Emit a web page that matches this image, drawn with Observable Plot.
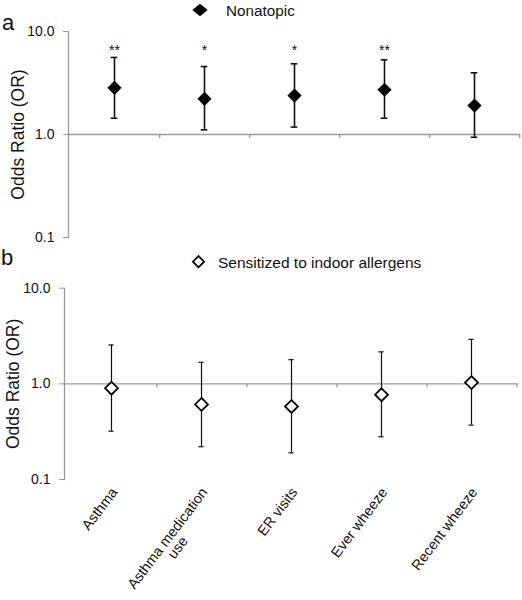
<!DOCTYPE html>
<html>
<head>
<meta charset="utf-8">
<script src="https://cdn.jsdelivr.net/npm/d3@7"></script>
<script src="https://cdn.jsdelivr.net/npm/@observablehq/plot@0.6"></script>
<style>
  html, body { margin: 0; padding: 0; background: #fff; }
  #wrap { position: relative; width: 522px; height: 600px; overflow: hidden; font-family: "Liberation Sans", Arial, sans-serif; }
  #wrap svg { display: block; }
  #overlay { position: absolute; left: 0; top: 0; pointer-events: none; }
</style>
</head>
<body>
<div id="wrap"></div>
<script>
const categories = ["Asthma", "Asthma medication use", "ER visits", "Ever wheeze", "Recent wheeze"];
const labelLine1 = ["Asthma", "Asthma medication", "ER visits", "Ever wheeze", "Recent wheeze"];
const labelLine2 = ["", "use", "", "", ""];

const nonatopicOR = [2.84, 2.22, 2.39, 2.72, 1.91];
const nonatopicLo = [1.44, 1.11, 1.18, 1.44, 0.94];
const nonatopicHi = [5.60, 4.57, 4.86, 5.31, 3.97];
const nonatopicSig = ["**", "*", "*", "**", ""];

const sensitizedOR = [0.90, 0.61, 0.58, 0.77, 1.03];
const sensitizedLo = [0.32, 0.22, 0.19, 0.28, 0.37];
const sensitizedHi = [2.55, 1.68, 1.79, 2.16, 2.92];

const yTicks = [0.1, 1, 10];
const yLabel = "Odds Ratio (OR)";
const legendA = "Nonatopic";
const legendB = "Sensitized to indoor allergens";

const FONT = "Liberation Sans, Arial, sans-serif";
const AXIS = "#9a9a9a";

const dataA = categories.map((c, i) => ({cat: c, or: nonatopicOR[i], lo: nonatopicLo[i], hi: nonatopicHi[i], sig: nonatopicSig[i]}));
const dataB = categories.map((c, i) => ({cat: c, or: sensitizedOR[i], lo: sensitizedLo[i], hi: sensitizedHi[i], l1: labelLine1[i], l2: labelLine2[i]}));

function panel({data, height, marginTop, marginBottom, marginLeft, marginRight, filled, showX, labelDx}) {
  const bw = (522 - marginLeft - marginRight) / categories.length;
  const capW = filled ? 7 : 6;
  const capInset = (bw - capW) / 2;
  const sw = filled ? 1.6 : 1.2;
  const marks = [
    Plot.ruleY([1], {stroke: AXIS, strokeWidth: 1.3}),
    Plot.frame({anchor: "left", stroke: AXIS, strokeWidth: 1.3}),
    Plot.axisY({ticks: yTicks, tickFormat: d => d.toFixed(1), tickSize: 5, tickPadding: 9, stroke: AXIS, fill: "#111", fontSize: 14, label: null}),
    Plot.ruleX(categories, {x: d => d, y1: 1, y2: 1, dx: bw / 2, insetBottom: -4, stroke: AXIS, strokeWidth: 1.3}),
    Plot.text([yLabel], {frameAnchor: "left", textAnchor: "middle", rotate: -90, dx: labelDx, fontSize: 17.5, fill: "#111"}),
    Plot.ruleX(data, {x: "cat", y1: "lo", y2: "hi", stroke: "#111", strokeWidth: sw}),
    Plot.tickY(data, {x: "cat", y: "hi", insetLeft: capInset, insetRight: capInset, stroke: "#111", strokeWidth: sw}),
    Plot.tickY(data, {x: "cat", y: "lo", insetLeft: capInset, insetRight: capInset, stroke: "#111", strokeWidth: sw}),
    Plot.dot(data, {x: "cat", y: "or", symbol: "diamond2", r: filled ? 6.4 : 5.8, fill: filled ? "#000" : "#fff", stroke: filled ? "none" : "#000", strokeWidth: 1.8})
  ];
  if (filled) {
    marks.push(Plot.text(data, {x: "cat", text: "sig", frameAnchor: "top", dy: 13.5, fontSize: 14, fill: "#111"}));
  }
  if (showX) {
    marks.push(Plot.axisX({anchor: "bottom", tickSize: 0, tickPadding: 8, tickRotate: -53, fontSize: 14.4, fill: "#111", label: null, dx: 3, dy: 2,
      tickFormat: d => labelLine1[categories.indexOf(d)]}));
    marks.push(Plot.text(data.filter(d => d.l2), {x: "cat", text: "l2", frameAnchor: "bottom", rotate: -53, textAnchor: "middle", dx: -20, dy: 71, fontSize: 14.4, fill: "#111"}));
  }
  return Plot.plot({
    width: 522, height, marginTop, marginBottom, marginLeft, marginRight,
    style: {fontFamily: FONT, background: "transparent", color: "#111", overflow: "visible"},
    x: {type: "band", domain: categories, padding: 0, axis: null},
    y: {type: "log", domain: [0.1, 10], axis: null},
    marks
  });
}

const wrap = document.getElementById("wrap");
wrap.appendChild(panel({data: dataA, height: 250, marginTop: 31, marginBottom: 13, marginLeft: 68, marginRight: 2, filled: true, showX: false, labelDx: -50}));
wrap.appendChild(panel({data: dataB, height: 350, marginTop: 37.7, marginBottom: 121, marginLeft: 64, marginRight: 4, filled: false, showX: true, labelDx: -51}));

// overlay: panel letters and legends
const ov = d3.select(wrap).append("svg").attr("id", "overlay").attr("width", 522).attr("height", 600)
  .style("font-family", FONT);
ov.append("text").attr("x", 2).attr("y", 30).attr("font-size", 22).attr("fill", "#111").text("a");
ov.append("text").attr("x", 1).attr("y", 265).attr("font-size", 22).attr("fill", "#111").text("b");
ov.append("path").attr("d", d3.symbol(d3.symbolDiamond2, 125)()).attr("transform", "translate(200,10) scale(1.1,0.9)").attr("fill", "#000");
ov.append("text").attr("x", 226).attr("y", 15.5).attr("font-size", 15.3).attr("fill", "#111").text(legendA);
ov.append("path").attr("d", d3.symbol(d3.symbolDiamond2, 80)()).attr("transform", "translate(198.5,261.7)").attr("fill", "#fff").attr("stroke", "#000").attr("stroke-width", 1.8);
ov.append("text").attr("x", 218).attr("y", 268.3).attr("font-size", 15.5).attr("fill", "#111").text(legendB);
</script>
</body>
</html>
